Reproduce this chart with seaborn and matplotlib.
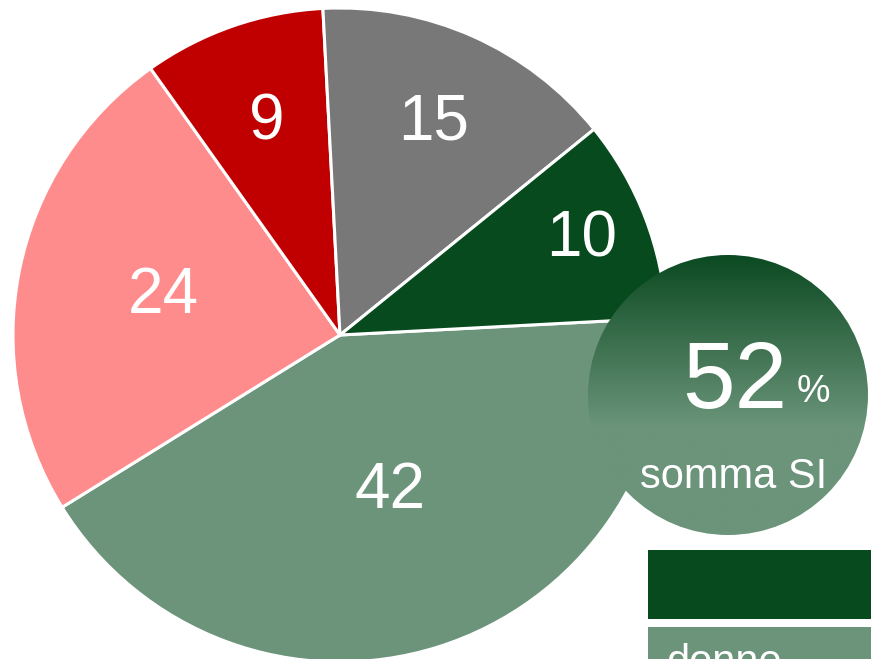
import numpy as np
import matplotlib
matplotlib.use("Agg")
import matplotlib.pyplot as plt
import seaborn as sns
from matplotlib.patches import Circle, Rectangle
from matplotlib.colors import LinearSegmentedColormap

# ---- data ----
labels = ["42", "24", "9", "15", "10"]
values = [42, 24, 9, 15, 10]
colors = ["#6b947a", "#ff8c8c", "#c00000", "#787878", "#064a1e"]
label_dist = [0.51, 0.55, 0.68, 0.70, 0.79]
sum_si = 52
sum_label = "somma SI"
legend_labels = ["", "donne"]
legend_colors = ["#064a1e", "#6b947a"]

sns.set_theme(style="white")
plt.rcParams['font.family'] = ['Liberation Sans', 'DejaVu Sans']

W, H = 871, 659
fig = plt.figure(figsize=(W / 100, H / 100), dpi=100)
ax = fig.add_axes([0, 0, 1, 1])

cx, cy, r = 340, H - 335, 327
wedges, _ = ax.pie(values, colors=colors, startangle=3, counterclock=False,
                   center=(cx, cy), radius=r,
                   wedgeprops=dict(edgecolor="white", linewidth=2.2))
for w, lab, d in zip(wedges, labels, label_dist):
    mid = np.deg2rad((w.theta1 + w.theta2) / 2)
    ax.text(cx + d * r * np.cos(mid), cy + d * r * np.sin(mid) + 3, lab,
            color="white", fontsize=46, ha="center", va="center")

# gradient circle
ccx, ccy, cr = 728, H - 395, 140
circ = Circle((ccx, ccy), cr, facecolor="none", edgecolor="none", zorder=5)
ax.add_patch(circ)
cmap = LinearSegmentedColormap.from_list(
    "g", [(0, "#0b4a22"), (0.3, "#3a6e4c"), (0.62, "#6b957b"), (1, "#6b947a")])
grad = np.linspace(0, 1, 256).reshape(-1, 1)
im = ax.imshow(grad, cmap=cmap, aspect="auto", zorder=6,
               extent=(ccx - cr, ccx + cr, ccy - cr, ccy + cr), origin="upper")
im.set_clip_path(circ)

ax.text(682, H - 408, str(sum_si), color="white", fontsize=68,
        ha="left", va="baseline", zorder=7)
ax.text(797, H - 402, "%", color="white", fontsize=27,
        ha="left", va="baseline", zorder=7)
ax.text(640, H - 488, sum_label, color="white", fontsize=30,
        ha="left", va="baseline", zorder=7)

# legend boxes (partially cropped)
ax.add_patch(Rectangle((648, H - 619), 260, 69, facecolor=legend_colors[0],
                       edgecolor="none", zorder=8))
ax.add_patch(Rectangle((648, H - 700), 260, 73, facecolor=legend_colors[1],
                       edgecolor="none", zorder=8))
ax.text(666, H - 674, legend_labels[1], color="white", fontsize=30,
        ha="left", va="baseline", zorder=9, clip_on=True)

ax.set_xlim(0, W)
ax.set_ylim(0, H)
ax.set_aspect("equal")
ax.axis("off")
fig.savefig("out.png", dpi=100)
